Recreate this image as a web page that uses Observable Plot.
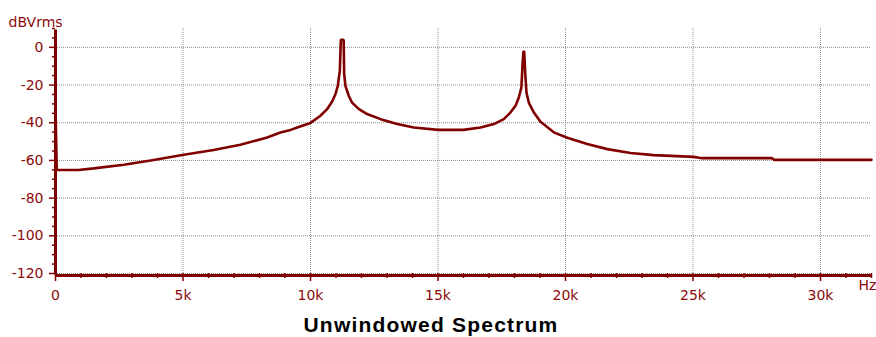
<!DOCTYPE html>
<html>
<head>
<meta charset="utf-8">
<script src="https://cdn.jsdelivr.net/npm/d3@7"></script>
<script src="https://cdn.jsdelivr.net/npm/@observablehq/plot@0.6"></script>
<style>
  body { margin: 0; background: #fff; }
  #chart { width: 876px; height: 308px; }
  #title {
    width: 876px; position: relative; left: -7px; margin-top: 3px;
    font-family: "Liberation Sans", Arial, sans-serif; font-weight: bold;
    font-size: 21px; letter-spacing: 1.2px; line-height: 28px;
    text-align: center; color: #000;
  }
</style>
</head>
<body>
<div id="chart"></div>
<div id="title">Unwindowed Spectrum</div>
<script>
// Frequency (Hz) and level (dBVrms)
const freqHz = [0, 50, 900, 1500, 2680, 3730, 5030, 6200, 7250, 8300, 8820, 9220, 9480, 10000, 10390, 10650, 10850, 10980, 11070, 11150, 11190, 11300, 11320, 11370, 11500, 11630, 11900, 12220, 12750, 13400, 14050, 15000, 16000, 16670, 17190, 17580, 17840, 18040, 18170, 18270, 18320, 18350, 18380, 18430, 18470, 18560, 18760, 19020, 19540, 20070, 20850, 21640, 22550, 23460, 25030, 25360, 28100, 28180, 32000];
const levelDb = [-32, -65.1, -65.1, -64.2, -62.3, -60, -57, -54.5, -51.7, -47.8, -45.2, -43.8, -42.5, -40.1, -36.3, -32.8, -28.7, -24.8, -20.4, -12.5, 4, 4, -14.2, -20.4, -25.7, -29.3, -32.8, -35.4, -38.1, -40.7, -42.5, -43.8, -43.8, -42.5, -40.7, -38.1, -34.6, -31, -26.6, -21.3, -8, -2.2, -2.2, -16, -24, -29.3, -34.6, -39.5, -45.1, -48, -51.3, -54, -56.1, -57.2, -58.1, -58.8, -58.8, -59.7, -59.7];

const xTickValues = [0, 5000, 10000, 15000, 20000, 25000, 30000];
const xTickLabels = ["0", "5k", "10k", "15k", "20k", "25k", "30k"];
const xMinorTicks = d3.range(0, 32001, 1000).filter(v => v % 5000 !== 0);
const yTickValues = [0, -20, -40, -60, -80, -100, -120];
const yMinorTicks = d3.range(-120, 11, 5).filter(v => v % 20 !== 0);

const data = freqHz.map((f, i) => ({ f, db: levelDb[i] }));

const dark = "#800000";
const textColor = "#8b0a0a";
const gridStyle = { stroke: "#8c8c8c", strokeDasharray: "1,1", strokeWidth: 1 };

const chart = Plot.plot({
  width: 876,
  height: 308,
  marginLeft: 55,
  marginRight: 5,
  marginTop: 28,
  marginBottom: 35,
  style: { fontFamily: "DejaVu Sans, sans-serif", fontSize: "14px", color: textColor, background: "#fff" },
  x: { domain: [0, 32000], label: null },
  y: { domain: [-120, 10], label: null },
  marks: [
    Plot.ruleX(xTickValues.slice(1), { x: d => d, y1: -120, y2: 10, ...gridStyle }),
    Plot.ruleY(yTickValues, { y: d => d, ...gridStyle }),
    Plot.axisX({ ticks: xMinorTicks, tickSize: 5, text: null, stroke: dark, strokeWidth: 1.5 }),
    Plot.axisX({ ticks: xTickValues, tickSize: 8, tickPadding: 9, stroke: dark, strokeWidth: 1.5,
      tickFormat: d => xTickLabels[xTickValues.indexOf(d)], fill: textColor }),
    Plot.axisY({ ticks: yMinorTicks, tickSize: 3, text: null, stroke: dark, strokeWidth: 1.5 }),
    Plot.axisY({ ticks: yTickValues, tickSize: 6, tickPadding: 6, stroke: dark, strokeWidth: 1.5,
      tickFormat: d => String(d), fill: textColor }),
    Plot.line(data, { x: "f", y: "db", stroke: dark, strokeWidth: 2.6, strokeLinejoin: "miter" }),
    Plot.ruleX([0], { x: d => d, y1: -120, y2: 10, stroke: dark, strokeWidth: 3, dy: 1.5 }),
    Plot.ruleY([-120], { y: d => d, stroke: dark, strokeWidth: 3, dy: 2 }),
    Plot.text(["dBVrms"], { text: d => d, frameAnchor: "top-left", textAnchor: "start", dx: -47, dy: -11, fill: textColor, fontSize: 14 }),
    Plot.text(["Hz"], { text: d => d, frameAnchor: "bottom-right", textAnchor: "start", dx: -13, dy: 16, fill: textColor, fontSize: 14 })
  ]
});
document.getElementById("chart").appendChild(chart);
</script>
</body>
</html>
